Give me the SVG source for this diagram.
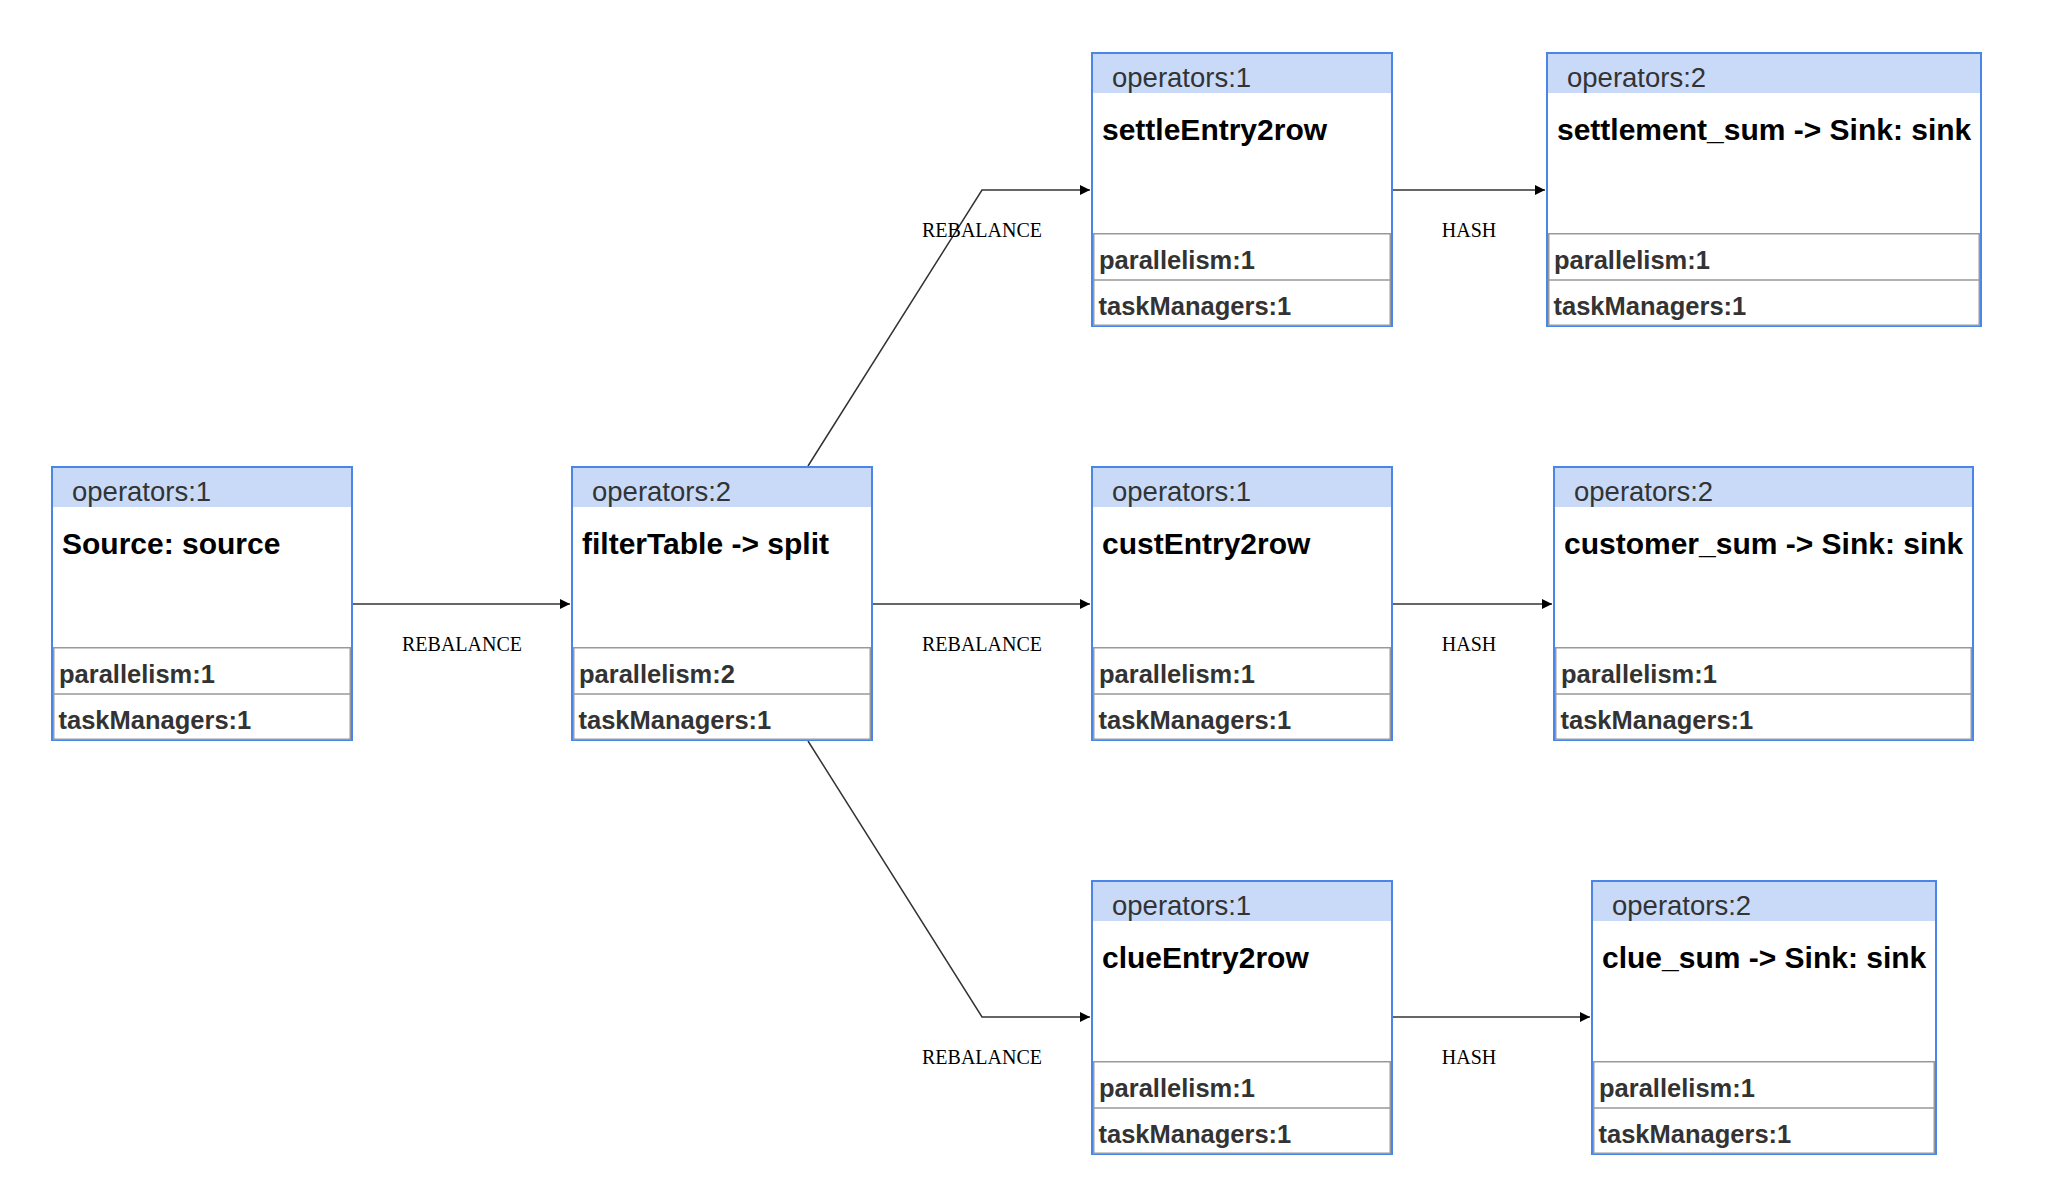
<svg xmlns="http://www.w3.org/2000/svg" width="2058" height="1200" viewBox="0 0 2058 1200">
<defs>
<style>
.frame{fill:#ffffff;stroke:#4a86e8;stroke-width:2}
.head{fill:#c9daf8;stroke:none}
.rows{fill:none;stroke:#999999;stroke-width:1.5}
.ops{font-family:"Liberation Sans",Arial,sans-serif;font-size:27.5px;fill:#333333}
.title{font-family:"Liberation Sans",Arial,sans-serif;font-size:30px;font-weight:bold;fill:#000000}
.attr{font-family:"Liberation Sans",Arial,sans-serif;font-size:25.5px;font-weight:bold;fill:#333333}
.edge{fill:none;stroke:#333333;stroke-width:1.5}
.elabel{font-family:"Liberation Serif","Times New Roman",serif;font-size:20px;fill:#000000;text-anchor:middle}
</style>
<marker id="arrow" viewBox="0 0 10 10" refX="10" refY="5" markerWidth="10" markerHeight="10" markerUnits="userSpaceOnUse" orient="auto">
<path d="M0,0 L10,5 L0,10 z" fill="#000000"/>
</marker>
</defs>
<rect width="2058" height="1200" fill="#ffffff"/>

<g id="connectors">
<path class="edge" d="M353 604 H570" marker-end="url(#arrow)"/>
<path class="edge" d="M808 466 L982 190 H1090" marker-end="url(#arrow)"/>
<path class="edge" d="M873 604 H1090" marker-end="url(#arrow)"/>
<path class="edge" d="M808 741 L982 1017 H1090" marker-end="url(#arrow)"/>
<path class="edge" d="M1393 190 H1545" marker-end="url(#arrow)"/>
<path class="edge" d="M1393 604 H1552" marker-end="url(#arrow)"/>
<path class="edge" d="M1393 1017 H1590" marker-end="url(#arrow)"/>
<text class="elabel" x="462" y="651">REBALANCE</text>
<text class="elabel" x="982" y="237">REBALANCE</text>
<text class="elabel" x="982" y="651">REBALANCE</text>
<text class="elabel" x="982" y="1064">REBALANCE</text>
<text class="elabel" x="1469" y="237">HASH</text>
<text class="elabel" x="1469" y="651">HASH</text>
<text class="elabel" x="1469" y="1064">HASH</text>
</g>

<g id="node-source" transform="translate(51,466)">
<rect class="frame" x="1" y="1" width="300" height="273"/>
<rect class="head" x="2" y="2" width="298" height="39"/>
<rect class="rows" x="2.75" y="181.75" width="296.5" height="91.5"/>
<line class="rows" x1="2.75" y1="228" x2="299.25" y2="228"/>
<text class="ops" x="21" y="35">operators:1</text>
<text class="title" x="11" y="88">Source: source</text>
<text class="attr" x="8" y="217">parallelism:1</text>
<text class="attr" x="7.5" y="263">taskManagers:1</text>
</g>

<g id="node-filter" transform="translate(571,466)">
<rect class="frame" x="1" y="1" width="300" height="273"/>
<rect class="head" x="2" y="2" width="298" height="39"/>
<rect class="rows" x="2.75" y="181.75" width="296.5" height="91.5"/>
<line class="rows" x1="2.75" y1="228" x2="299.25" y2="228"/>
<text class="ops" x="21" y="35">operators:2</text>
<text class="title" x="11" y="88">filterTable -&gt; split</text>
<text class="attr" x="8" y="217">parallelism:2</text>
<text class="attr" x="7.5" y="263">taskManagers:1</text>
</g>

<g id="node-settle" transform="translate(1091,52)">
<rect class="frame" x="1" y="1" width="300" height="273"/>
<rect class="head" x="2" y="2" width="298" height="39"/>
<rect class="rows" x="2.75" y="181.75" width="296.5" height="91.5"/>
<line class="rows" x1="2.75" y1="228" x2="299.25" y2="228"/>
<text class="ops" x="21" y="35">operators:1</text>
<text class="title" x="11" y="88">settleEntry2row</text>
<text class="attr" x="8" y="217">parallelism:1</text>
<text class="attr" x="7.5" y="263">taskManagers:1</text>
</g>

<g id="node-cust" transform="translate(1091,466)">
<rect class="frame" x="1" y="1" width="300" height="273"/>
<rect class="head" x="2" y="2" width="298" height="39"/>
<rect class="rows" x="2.75" y="181.75" width="296.5" height="91.5"/>
<line class="rows" x1="2.75" y1="228" x2="299.25" y2="228"/>
<text class="ops" x="21" y="35">operators:1</text>
<text class="title" x="11" y="88">custEntry2row</text>
<text class="attr" x="8" y="217">parallelism:1</text>
<text class="attr" x="7.5" y="263">taskManagers:1</text>
</g>

<g id="node-clue" transform="translate(1091,880)">
<rect class="frame" x="1" y="1" width="300" height="273"/>
<rect class="head" x="2" y="2" width="298" height="39"/>
<rect class="rows" x="2.75" y="181.75" width="296.5" height="91.5"/>
<line class="rows" x1="2.75" y1="228" x2="299.25" y2="228"/>
<text class="ops" x="21" y="35">operators:1</text>
<text class="title" x="11" y="88">clueEntry2row</text>
<text class="attr" x="8" y="217">parallelism:1</text>
<text class="attr" x="7.5" y="263">taskManagers:1</text>
</g>

<g id="node-settlement-sum" transform="translate(1546,52)">
<rect class="frame" x="1" y="1" width="434" height="273"/>
<rect class="head" x="2" y="2" width="432" height="39"/>
<rect class="rows" x="2.75" y="181.75" width="430.5" height="91.5"/>
<line class="rows" x1="2.75" y1="228" x2="433.25" y2="228"/>
<text class="ops" x="21" y="35">operators:2</text>
<text class="title" x="11" y="88">settlement_sum -&gt; Sink: sink</text>
<text class="attr" x="8" y="217">parallelism:1</text>
<text class="attr" x="7.5" y="263">taskManagers:1</text>
</g>

<g id="node-customer-sum" transform="translate(1553,466)">
<rect class="frame" x="1" y="1" width="419" height="273"/>
<rect class="head" x="2" y="2" width="417" height="39"/>
<rect class="rows" x="2.75" y="181.75" width="415.5" height="91.5"/>
<line class="rows" x1="2.75" y1="228" x2="418.25" y2="228"/>
<text class="ops" x="21" y="35">operators:2</text>
<text class="title" x="11" y="88">customer_sum -&gt; Sink: sink</text>
<text class="attr" x="8" y="217">parallelism:1</text>
<text class="attr" x="7.5" y="263">taskManagers:1</text>
</g>

<g id="node-clue-sum" transform="translate(1591,880)">
<rect class="frame" x="1" y="1" width="344" height="273"/>
<rect class="head" x="2" y="2" width="342" height="39"/>
<rect class="rows" x="2.75" y="181.75" width="340.5" height="91.5"/>
<line class="rows" x1="2.75" y1="228" x2="343.25" y2="228"/>
<text class="ops" x="21" y="35">operators:2</text>
<text class="title" x="11" y="88">clue_sum -&gt; Sink: sink</text>
<text class="attr" x="8" y="217">parallelism:1</text>
<text class="attr" x="7.5" y="263">taskManagers:1</text>
</g>
</svg>
